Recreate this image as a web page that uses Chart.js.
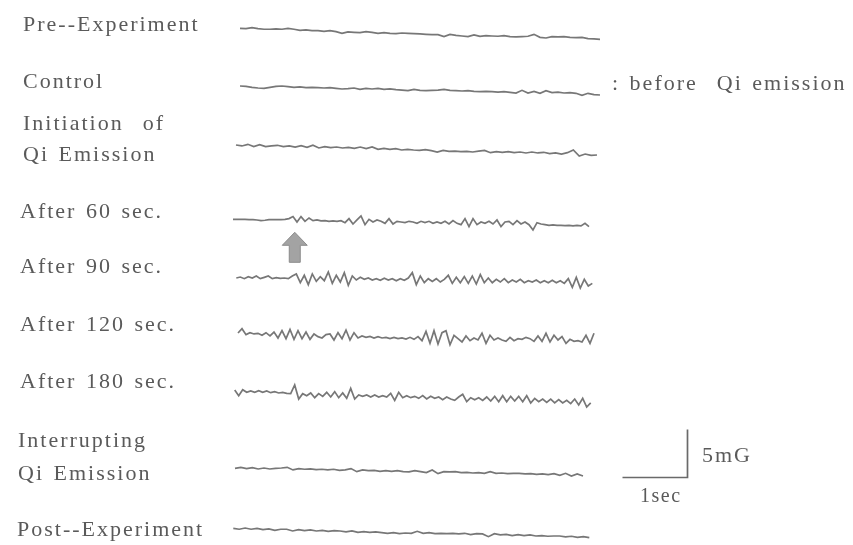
<!DOCTYPE html>
<html>
<head>
<meta charset="utf-8">
<script src="https://cdn.jsdelivr.net/npm/chart.js@4.4.1/dist/chart.umd.min.js"></script>
<style>
  html, body { margin: 0; padding: 0; background: #ffffff; }
  #wrap { position: relative; width: 853px; height: 545px; overflow: hidden; background: #ffffff; }
  #c { position: absolute; left: 0; top: 0; }
  .lbl { position: absolute; font-family: "Liberation Serif", "DejaVu Serif", serif; font-size: 22px;
         line-height: 22px; color: #5a5a5a; letter-spacing: 2px; word-spacing: 2px; white-space: pre; }
</style>
</head>
<body>
<div id="wrap">
  <canvas id="c" width="853" height="545"></canvas>
  <div class="lbl" style="left:23px; top:13px;">Pre--Experiment</div>
  <div class="lbl" style="left:23px; top:70px;">Control</div>
  <div class="lbl" style="left:23px; top:112px;">Initiation  of</div>
  <div class="lbl" style="left:23px; top:143px;">Qi Emission</div>
  <div class="lbl" style="left:20px; top:200px;">After 60 sec.</div>
  <div class="lbl" style="left:20px; top:255px;">After 90 sec.</div>
  <div class="lbl" style="left:20px; top:313px;">After 120 sec.</div>
  <div class="lbl" style="left:20px; top:370px;">After 180 sec.</div>
  <div class="lbl" style="left:18px; top:429px;">Interrupting</div>
  <div class="lbl" style="left:18px; top:462px;">Qi Emission</div>
  <div class="lbl" style="left:17px; top:518px;">Post--Experiment</div>
  <div class="lbl" style="left:612px; top:72px;">: before  Qi emission</div>
  <div class="lbl" style="left:702px; top:444px;">5mG</div>
  <div class="lbl" style="left:640px; top:485px; font-size:20px; line-height:20px; letter-spacing:1.5px;">1sec</div>
</div>
<script>
// ---- data: magnetic field deviation (mG) per recording, equally spaced in time ----
const traceNames = ["Pre-Experiment", "Control", "Initiation of Qi Emission", "After 60 sec.",
  "After 90 sec.", "After 120 sec.", "After 180 sec.", "Interrupting Qi Emission", "Post-Experiment"];

const preExperiment = [0,-0.03,0.07,-0.03,-0.10,-0.10,-0.07,-0.10,0,-0.10,-0.21,-0.17,-0.24,-0.24,-0.31,-0.24,-0.35,-0.52,-0.38,-0.42,-0.45,-0.35,-0.42,-0.52,-0.45,-0.52,-0.56,-0.49,-0.52,-0.56,-0.59,-0.63,-0.66,-0.66,-0.87,-0.63,-0.73,-0.80,-0.87,-0.69,-0.83,-0.76,-0.80,-0.83,-0.76,-0.87,-0.90,-0.87,-0.83,-0.63,-0.94,-1.01,-0.87,-0.90,-0.87,-0.94,-0.97,-0.94,-1.08,-1.11,-1.15];

const control = [0,-0.03,-0.14,-0.21,-0.24,-0.14,-0.03,0,-0.07,-0.14,-0.10,-0.17,-0.14,-0.17,-0.21,-0.17,-0.24,-0.31,-0.28,-0.21,-0.35,-0.24,-0.31,-0.24,-0.35,-0.31,-0.38,-0.42,-0.49,-0.35,-0.45,-0.49,-0.45,-0.42,-0.35,-0.45,-0.49,-0.52,-0.49,-0.56,-0.59,-0.56,-0.59,-0.63,-0.59,-0.66,-0.73,-0.45,-0.73,-0.56,-0.76,-0.49,-0.69,-0.63,-0.73,-0.69,-0.76,-0.97,-0.76,-0.90,-0.94];

const initiation = [0,-0.10,0.07,-0.17,0.03,-0.17,-0.10,-0.03,-0.17,-0.10,-0.21,-0.07,-0.24,-0.03,-0.31,-0.17,-0.28,-0.21,-0.31,-0.24,-0.35,-0.21,-0.38,-0.21,-0.45,-0.35,-0.45,-0.38,-0.52,-0.45,-0.52,-0.56,-0.49,-0.59,-0.73,-0.56,-0.66,-0.63,-0.69,-0.66,-0.73,-0.63,-0.56,-0.80,-0.69,-0.76,-0.69,-0.80,-0.73,-0.83,-0.73,-0.83,-0.76,-0.90,-0.83,-0.94,-0.80,-0.52,-1.15,-0.94,-1.08,-1.04];

const after60 = [0,0,0,0,-0.03,-0.03,-0.07,-0.14,-0.10,-0.03,-0.03,-0.03,-0.03,0,0.07,0.28,-0.28,0.28,-0.21,0.14,-0.14,-0.07,-0.17,-0.14,-0.21,-0.17,-0.21,-0.14,-0.35,0.07,-0.49,-0.07,0.35,-0.56,0,-0.28,-0.07,-0.21,-0.42,0.07,-0.49,-0.21,-0.28,-0.35,-0.21,-0.28,-0.42,-0.21,-0.35,-0.21,-0.42,-0.28,-0.42,-0.21,-0.49,-0.14,-0.42,-0.56,0.07,-0.76,0.07,-0.56,-0.28,-0.42,-0.21,-0.49,-0.07,-0.76,-0.28,-0.21,-0.56,-0.14,-0.49,-0.28,-0.56,-1.11,-0.35,-0.49,-0.56,-0.63,-0.59,-0.63,-0.63,-0.66,-0.63,-0.69,-0.63,-0.69,-0.42,-0.76];

const after90 = [0,0.10,-0.07,0.14,0,0.21,-0.07,0.07,0.21,-0.07,0.03,-0.03,0,-0.07,0.21,0.42,-0.49,0.28,-0.69,0.42,-0.35,0.14,-0.28,0.63,-0.56,0.28,-0.42,0.56,-0.76,0.21,-0.21,0.07,-0.14,0,-0.21,-0.07,-0.24,-0.03,-0.21,-0.07,-0.28,-0.07,-0.24,0,0.56,-0.69,0.21,-0.49,-0.07,-0.35,-0.07,-0.42,-0.14,0.28,-0.56,0.07,-0.49,0.14,-0.56,0.21,-0.63,0.35,-0.49,0,-0.49,-0.14,-0.42,-0.07,-0.49,-0.21,-0.42,-0.14,-0.49,-0.28,-0.42,-0.21,-0.49,-0.28,-0.49,-0.24,-0.49,-0.28,-0.56,-0.07,-0.97,0.07,-1.04,-0.14,-0.83,-0.56];

const after120 = [0,0.45,-0.17,0.03,-0.10,-0.03,-0.24,0.03,-0.31,0.10,-0.52,0.24,-0.59,0.38,-0.66,0.24,-0.59,0.10,-0.66,-0.10,-0.38,-0.52,-0.17,-0.10,-0.73,0.03,-0.59,0.31,-0.73,0.03,-0.52,-0.31,-0.45,-0.35,-0.52,-0.38,-0.52,-0.45,-0.59,-0.45,-0.59,-0.52,-0.63,-0.45,-0.66,-0.38,-0.80,0.17,-1.08,0.24,-1.15,0.03,0.24,-1.22,-0.24,-0.59,-0.94,-0.31,-0.80,-0.52,-0.73,-0.03,-1.08,-0.24,-0.73,-0.52,-0.73,-0.87,-0.45,-0.80,-0.59,-0.66,-0.45,-0.59,-0.87,-0.31,-0.87,-0.03,-0.94,-0.24,-0.73,-0.38,-1.08,-0.66,-0.87,-0.80,-0.94,-0.24,-1.08,-0.03];

const after180 = [0,-0.59,0.03,-0.24,-0.10,-0.24,-0.07,-0.24,-0.10,-0.28,-0.17,-0.31,-0.24,-0.35,-0.38,0.52,-0.94,-0.38,-0.59,-0.31,-0.80,-0.38,-0.66,-0.24,-0.73,-0.17,-0.80,-0.31,-0.87,0.17,-0.94,-0.52,-0.66,-0.52,-0.73,-0.52,-0.73,-0.59,-0.73,-0.35,-1.08,-0.24,-0.80,-0.59,-0.80,-0.66,-0.87,-0.59,-0.94,-0.66,-0.87,-0.73,-1.01,-0.73,-0.94,-1.08,-0.73,-0.45,-1.22,-0.80,-1.01,-0.80,-1.08,-0.73,-1.15,-0.66,-1.22,-0.59,-1.22,-0.66,-1.15,-0.66,-1.22,-0.59,-1.35,-0.87,-1.22,-0.94,-1.28,-0.94,-1.35,-1.01,-1.35,-1.08,-1.42,-0.94,-1.56,-0.87,-1.77,-1.35];

const interrupting = [0,0.10,-0.03,0.07,-0.07,0.03,-0.07,0,0.03,0.10,-0.17,-0.03,-0.10,-0.07,-0.14,-0.10,-0.17,-0.10,-0.21,-0.17,-0.03,-0.35,-0.17,-0.24,-0.21,-0.31,-0.24,-0.31,-0.24,-0.35,-0.38,-0.24,-0.35,-0.45,-0.17,-0.56,-0.35,-0.38,-0.35,-0.45,-0.42,-0.49,-0.45,-0.52,-0.35,-0.52,-0.49,-0.56,-0.52,-0.52,-0.59,-0.56,-0.63,-0.59,-0.66,-0.56,-0.73,-0.52,-0.80,-0.59,-0.80];

const postExperiment = [0,-0.10,0.03,-0.10,0,-0.14,-0.07,-0.21,-0.10,-0.10,-0.28,-0.14,-0.24,-0.17,-0.28,-0.21,-0.31,-0.24,-0.28,-0.38,-0.28,-0.42,-0.35,-0.42,-0.38,-0.45,-0.52,-0.45,-0.56,-0.49,-0.52,-0.31,-0.52,-0.45,-0.56,-0.52,-0.56,-0.52,-0.59,-0.52,-0.66,-0.56,-0.59,-0.87,-0.56,-0.69,-0.63,-0.76,-0.66,-0.76,-0.69,-0.80,-0.76,-0.83,-0.80,-0.80,-0.90,-0.83,-0.94,-0.87,-0.97];

const traceValues = [preExperiment, control, initiation, after60, after90, after120, after180, interrupting, postExperiment];

// scale bar values: 1 sec horizontal, 5 mG vertical
const scaleBarSec = [0, 1, 1];
const scaleBarMG = [0, 0, 5];
// time (s) into the "After 60 sec." recording marked by the arrow
const arrowTimeSec = 0.95;

// ---- layout (where each recording sits on the page, in seconds / mG) ----
const SEC_PX = 65, MG_PX = 9.6, W = 853, H = 545;
const traceStartPx = [240, 240, 236, 233, 236.3, 238, 234.7, 235, 233.3];
const traceEndPx   = [600, 600, 597, 589, 592.3, 594, 590.7, 583, 589.3];
const traceBasePx  = [28.3, 86, 145, 219.3, 278, 333, 390, 468.3, 528.3];
const scaleBarOriginPx = [622.5, 477.5];

const toSec = px => px / SEC_PX;
const toMG = py => -py / MG_PX;

const datasets = traceValues.map((vals, k) => {
  const t0 = toSec(traceStartPx[k]);
  const dur = toSec(traceEndPx[k]) - t0;
  const base = toMG(traceBasePx[k]);
  return {
    label: traceNames[k],
    data: vals.map((v, i) => ({ x: t0 + i * dur / (vals.length - 1), y: base + v })),
    borderColor: '#777777',
    borderWidth: 1.7,
    pointRadius: 0,
    tension: 0,
    fill: false
  };
});

const sbT0 = toSec(scaleBarOriginPx[0]);
const sbY0 = toMG(scaleBarOriginPx[1]);
datasets.push({
  label: 'scale',
  data: scaleBarSec.map((s, i) => ({ x: sbT0 + s, y: sbY0 + scaleBarMG[i] })),
  borderColor: '#6a6a6a',
  borderWidth: 1.7,
  pointRadius: 0,
  tension: 0,
  fill: false
});

const arrowPlugin = {
  id: 'arrow',
  afterDatasetsDraw(chart) {
    const ctx = chart.ctx;
    const xs = chart.scales.x, ys = chart.scales.y;
    const cx = xs.getPixelForValue(toSec(traceStartPx[3]) + arrowTimeSec);
    const by = ys.getPixelForValue(toMG(traceBasePx[3]));
    const tip = by + 13, headB = by + 26, bot = by + 43;
    ctx.save();
    ctx.beginPath();
    ctx.moveTo(cx, tip);
    ctx.lineTo(cx + 12.5, headB);
    ctx.lineTo(cx + 5.5, headB);
    ctx.lineTo(cx + 5.5, bot);
    ctx.lineTo(cx - 5.5, bot);
    ctx.lineTo(cx - 5.5, headB);
    ctx.lineTo(cx - 12.5, headB);
    ctx.closePath();
    ctx.fillStyle = '#a3a3a3';
    ctx.fill();
    ctx.strokeStyle = '#8c8c8c';
    ctx.lineWidth = 1;
    ctx.stroke();
    ctx.restore();
  }
};

new Chart(document.getElementById('c'), {
  type: 'line',
  data: { datasets },
  options: {
    responsive: false,
    animation: false,
    layout: { padding: 0 },
    plugins: { legend: { display: false }, tooltip: { enabled: false }, title: { display: false } },
    scales: {
      x: { type: 'linear', display: false, min: 0, max: W / SEC_PX },
      y: { type: 'linear', display: false, min: -H / MG_PX, max: 0 }
    }
  },
  plugins: [arrowPlugin]
});
</script>
</body>
</html>
